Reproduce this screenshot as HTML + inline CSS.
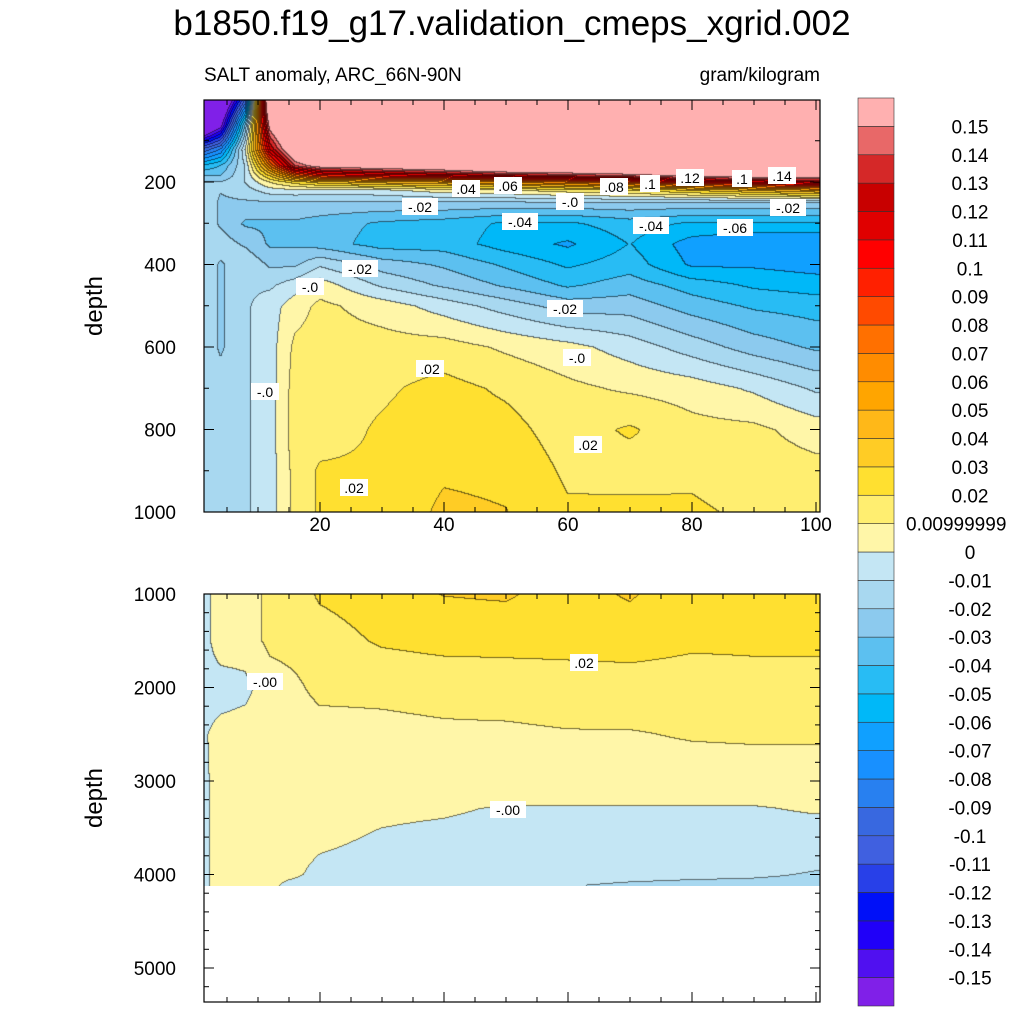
<!DOCTYPE html>
<html><head><meta charset="utf-8"><style>
body{margin:0;background:#fff;width:1024px;height:1024px;overflow:hidden;font-family:"Liberation Sans",sans-serif}
</style></head><body>
<svg id="svg" width="1024" height="1024" xmlns="http://www.w3.org/2000/svg" style="position:absolute;left:0;top:0">
<text x="512" y="35" font-size="35" text-anchor="middle">b1850.f19_g17.validation_cmeps_xgrid.002</text>
<text x="204" y="81" font-size="19">SALT anomaly, ARC_66N-90N</text>
<text x="820" y="81" font-size="19" text-anchor="end">gram/kilogram</text>
<foreignObject x="204" y="100" width="616" height="412"><canvas xmlns="http://www.w3.org/1999/xhtml" id="c1" width="616" height="412"></canvas></foreignObject>
<foreignObject x="204" y="594" width="616" height="292"><canvas xmlns="http://www.w3.org/1999/xhtml" id="c2" width="616" height="292"></canvas></foreignObject>
<g id="axes"></g>
<text transform="translate(102,306) rotate(-90)" font-size="24" text-anchor="middle">depth</text>
<text transform="translate(102,798) rotate(-90)" font-size="24" text-anchor="middle">depth</text>
<g id="cbar"></g>
<g id="labels" font-size="14"></g>
</svg>
<script>
const levels=[-0.15,-0.14,-0.13,-0.12,-0.11,-0.1,-0.09,-0.08,-0.07,-0.06,-0.05,-0.04,-0.03,-0.02,-0.01,0,0.0099999,0.02,0.03,0.04,0.05,0.06,0.07,0.08,0.09,0.1,0.11,0.12,0.13,0.14,0.15];
const levelLabels=["-0.15","-0.14","-0.13","-0.12","-0.11","-0.1","-0.09","-0.08","-0.07","-0.06","-0.05","-0.04","-0.03","-0.02","-0.01","0","0.00999999","0.02","0.03","0.04","0.05","0.06","0.07","0.08","0.09","0.1","0.11","0.12","0.13","0.14","0.15"];
const colors=["#8020e8","#5010f0","#2000f8","#0010f8","#2840e8","#4060e0","#3868e0","#2880f0","#1890ff","#10a0ff","#00b8f8","#28bcf4","#5cc0f0","#8ccaee","#a8d8f0","#c4e6f4","#fff6a8","#ffee70","#ffe030","#ffcc25","#ffb818","#ffa500","#ff8c00","#ff7000","#ff4a00","#ff2000","#ff0000","#e00000","#c80000","#d52828","#e86868","#ffb0b0"];
const xCols=[1,4,8,12,16,20,30,40,50,60,70,80,90,100];
const topDepths=[0,60,120,160,185,200,220,250,300,350,400,450,500,600,700,800,900,1000];
const topValues=[
[-0.25,-0.2,-0.1,0.2,0.2,0.2,0.2,0.2,0.2,0.2,0.2,0.2,0.2,0.2],
[-0.2,-0.16,-0.03,0.16,0.2,0.2,0.2,0.2,0.2,0.2,0.2,0.2,0.2,0.2],
[-0.1,-0.08,0.0,0.12,0.18,0.2,0.2,0.2,0.2,0.2,0.2,0.2,0.2,0.2],
[-0.05,-0.04,-0.01,0.07,0.14,0.16,0.17,0.18,0.2,0.2,0.2,0.2,0.2,0.2],
[-0.03,-0.03,-0.01,0.03,0.07,0.09,0.1,0.11,0.12,0.13,0.14,0.155,0.16,0.16],
[-0.02,-0.02,-0.01,0.01,0.025,0.035,0.045,0.05,0.06,0.07,0.08,0.1,0.11,0.12],
[-0.012,-0.02,-0.015,-0.005,-0.003,-0.004,-0.003,0.005,0.008,0.015,0.02,0.03,0.04,0.05],
[-0.012,-0.022,-0.022,-0.022,-0.022,-0.022,-0.022,-0.022,-0.022,-0.022,-0.022,-0.022,-0.022,-0.022],
[-0.012,-0.022,-0.032,-0.032,-0.032,-0.035,-0.042,-0.045,-0.052,-0.052,-0.045,-0.052,-0.052,-0.052],
[-0.012,-0.015,-0.022,-0.032,-0.032,-0.035,-0.045,-0.045,-0.055,-0.062,-0.05,-0.065,-0.07,-0.07],
[-0.012,-0.022,-0.012,-0.022,-0.022,-0.012,-0.025,-0.032,-0.042,-0.052,-0.045,-0.062,-0.062,-0.065],
[-0.012,-0.022,-0.012,-0.012,-0.005,0.005,-0.012,-0.022,-0.032,-0.042,-0.035,-0.045,-0.052,-0.055],
[-0.012,-0.022,-0.012,-0.005,0.005,0.012,0.005,-0.005,-0.015,-0.025,-0.025,-0.035,-0.042,-0.045],
[-0.012,-0.022,-0.012,-0.005,0.012,0.014,0.014,0.014,0.008,0.003,-0.005,-0.015,-0.025,-0.032],
[-0.012,-0.015,-0.012,-0.005,0.014,0.015,0.018,0.023,0.018,0.012,0.008,0.005,-0.002,-0.012],
[-0.012,-0.015,-0.012,-0.005,0.015,0.015,0.021,0.025,0.023,0.015,0.021,0.013,0.012,0.005],
[-0.012,-0.015,-0.012,-0.005,0.013,0.021,0.021,0.028,0.027,0.018,0.015,0.018,0.015,0.013],
[-0.012,-0.012,-0.012,-0.005,0.013,0.021,0.021,0.032,0.03,0.021,0.023,0.021,0.018,0.015]];
const botDepths=[1000,1500,2000,2500,3000,3300,3600,4000,4125];
const botValues=[
[-0.005,0.005,0.005,0.012,0.015,0.021,0.025,0.03,0.031,0.025,0.031,0.022,0.021,0.021],
[-0.005,0.005,0.005,0.012,0.013,0.015,0.021,0.023,0.023,0.023,0.023,0.021,0.021,0.021],
[-0.005,-0.005,-0.003,0.005,0.008,0.012,0.012,0.013,0.014,0.015,0.016,0.016,0.017,0.017],
[-0.002,0.003,0.004,0.005,0.005,0.006,0.007,0.008,0.008,0.009,0.009,0.0105,0.011,0.011],
[-0.002,0.002,0.003,0.003,0.003,0.004,0.004,0.004,0.005,0.005,0.005,0.005,0.005,0.005],
[-0.002,0.002,0.002,0.002,0.002,0.002,0.001,0.0005,-0.001,-0.001,-0.001,-0.001,-0.001,0.0005],
[-0.002,0.002,0.002,0.002,0.002,0.001,-0.001,-0.002,-0.003,-0.003,-0.004,-0.004,-0.004,-0.004],
[-0.002,0.002,0.002,0.001,0.0005,-0.002,-0.003,-0.004,-0.005,-0.006,-0.007,-0.008,-0.009,-0.011],
[-0.002,0.002,0.002,0.0005,-0.002,-0.003,-0.004,-0.005,-0.008,-0.01,-0.012,-0.013,-0.013,-0.013]];
const xTicks=[20,40,60,80,100];
const topYTicks=[200,400,600,800,1000];
const botYTicks=[1000,2000,3000,4000,5000];

const X0=204,X1=820;
const xs=v=>196+v*6.2;
const yTop=d=>99.5+d*0.4125;
const yBot=d=>594+(d-1000)*0.0935;
const NS="http://www.w3.org/2000/svg";
function el(tag,attrs,parent){const e=document.createElementNS(NS,tag);for(const k in attrs)e.setAttribute(k,attrs[k]);parent.appendChild(e);return e;}
function seg(arr,v){let i=0;while(i<arr.length-2&&v>arr[i+1])i++;let t=(v-arr[i])/(arr[i+1]-arr[i]);return[i,Math.max(0,Math.min(1,t))];}
function val(depths,vals,x,d){const[i,ti]=seg(xCols,x);const[j,tj]=seg(depths,d);
 const a=vals[j][i],b=vals[j][i+1],c=vals[j+1][i],e=vals[j+1][i+1];
 return (a*(1-ti)+b*ti)*(1-tj)+(c*(1-ti)+e*ti)*tj;}
function lev(v){v+=0.00037;let k=0;while(k<levels.length&&v>=levels[k])k++;return k;}
function hex(h){return[parseInt(h.substr(1,2),16),parseInt(h.substr(3,2),16),parseInt(h.substr(5,2),16)];}
const rgb=colors.map(hex);
function draw(id,depths,vals,yInv,h){
 const cv=document.getElementById(id),ctx=cv.getContext('2d');const W=616;
 const img=ctx.createImageData(W,h);const L=new Int16Array(W*h);
 for(let py=0;py<h;py++)for(let px=0;px<W;px++){
  const x=(X0+px+0.5-196)/6.2, d=yInv(py+0.5);
  L[py*W+px]=lev(val(depths,vals,x,d));}
 for(let py=0;py<h;py++)for(let px=0;px<W;px++){
  const k=L[py*W+px];let c=rgb[k];
  const edge=(px<W-1&&L[py*W+px+1]!==k)||(py<h-1&&L[(py+1)*W+px]!==k);
  const o=(py*W+px)*4;const f=edge?0.45:1;
  img.data[o]=c[0]*f;img.data[o+1]=c[1]*f;img.data[o+2]=c[2]*f;
  img.data[o+3]=255;}
 ctx.putImageData(img,0,0);}
draw('c1',topDepths,topValues,py=>py/0.4125,412);
draw('c2',botDepths,botValues,py=>1000+py/0.0935,292);

const ax=document.getElementById('axes');
function frame(y0,y1,name){const r=el('rect',{x:X0,y:y0,width:X1-X0,height:y1-y0,fill:'none',stroke:'#000','stroke-width':1.2},ax);
 }
frame(100,512,'top-plot-frame');frame(594,1002,'bottom-plot-frame');
function tick(x1,y1,x2,y2){el('line',{x1,y1,x2,y2,stroke:'#000','stroke-width':1},ax);}
for(let v=5;v<=100;v+=5){const x=xs(v),big=v%20===0;const L=big?10:5;
 tick(x,100,x,100+L);tick(x,512,x,512-L);tick(x,594,x,594+L);tick(x,1002,x,1002-L);}
xTicks.forEach(v=>{const t=el('text',{x:xs(v),y:531,'font-size':19,'text-anchor':'middle'},ax);t.textContent=v;
 });
for(let d=100;d<=1000;d+=100){const y=yTop(d),L=d%200===0?10:5;tick(X0,y,X0+L,y);tick(X1,y,X1-L,y);}
topYTicks.forEach(d=>{const t=el('text',{x:176,y:yTop(d)+7,'font-size':19,'text-anchor':'end'},ax);t.textContent=d;
 });
for(let d=1200;d<=5300;d+=200){const y=yBot(d),L=d%1000===0?10:5;tick(X0,y,X0+L,y);tick(X1,y,X1-L,y);}
botYTicks.forEach(d=>{const t=el('text',{x:176,y:yBot(d)+7,'font-size':19,'text-anchor':'end'},ax);t.textContent=d;
 });

const cb=document.getElementById('cbar');const bh=908/colors.length;
colors.forEach((c,i)=>{const r=el('rect',{x:858,y:98+(colors.length-1-i)*bh,width:36,height:bh,fill:c,stroke:'#333','stroke-width':0.6},cb);
 });
levelLabels.forEach((s,i)=>{const y=98+(colors.length-1-i)*bh;const t=el('text',{x:s.length>6?906:970,y:y+7,'font-size':19,'text-anchor':s.length>6?'start':'middle'},cb);t.textContent=s;
 });

const clab=[[".04",466,189],[".06",508,186],["-.0",570,202],[".08",614,187],[".1",650,184],[".12",690,178],[".1",742,179],[".14",782,176],["-.02",420,207],["-.04",520,222],["-.04",651,226],["-.06",735,228],["-.02",788,208],["-.02",360,269],["-.0",310,287],["-.02",565,309],["-.0",577,358],[".02",430,369],["-.0",265,392],[".02",588,445],[".02",354,488],["-.00",265,682],[".02",584,663],["-.00",508,810]];
const lg=document.getElementById('labels');
clab.forEach(([s,x,y])=>{const w=s.length*8+4;const r=el('rect',{x:x-w/2,y:y-9,width:w,height:17,fill:'#fff'},lg);
 
 const t=el('text',{x,y:y+5,'text-anchor':'middle'},lg);t.textContent=s;
 });
</script>
</body></html>
